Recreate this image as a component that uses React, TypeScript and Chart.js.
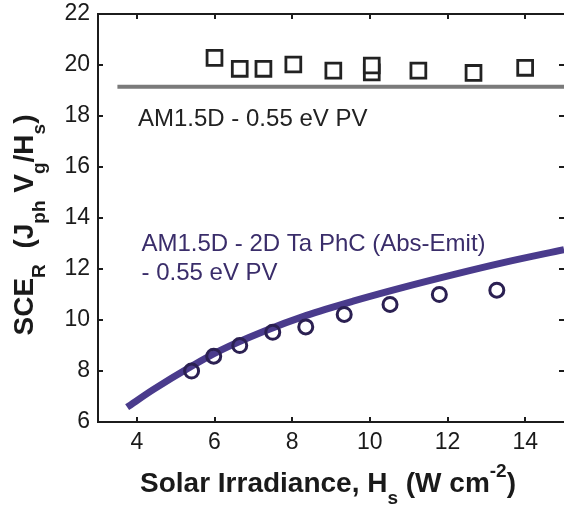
import React, { useEffect, useRef } from 'react';
import { Chart, registerables } from 'chart.js';

Chart.register(...registerables);

// Axis ticks
const xTickValues = [4, 6, 8, 10, 12, 14];
const yTickValues = [6, 8, 10, 12, 14, 16, 18, 20, 22];

// AM1.5D - 0.55 eV PV: measured points and the reference level
const squareX = [6.0, 6.65, 7.26, 8.03, 9.06, 10.05, 10.05, 11.25, 12.67, 14.0];
const squareY = [20.28, 19.85, 19.85, 20.02, 19.78, 19.71, 19.98, 19.78, 19.69, 19.89];
const refLineX = [3.5, 15.0];
const refLineY = [19.15, 19.15];

// AM1.5D - 2D Ta PhC (Abs-Emit) - 0.55 eV PV: measured points and model curve
const circleX = [5.41, 5.98, 6.65, 7.5, 8.35, 9.34, 10.52, 11.79, 13.27];
const circleY = [8.0, 8.58, 9.0, 9.52, 9.73, 10.22, 10.61, 11.0, 11.17];
const curveX = [3.75, 4.42, 5.41, 6.14, 7.26, 8.37, 9.57, 10.86, 12.15, 13.44, 15.0];
const curveY = [6.58, 7.27, 8.19, 8.8, 9.55, 10.18, 10.74, 11.28, 11.78, 12.25, 12.76];

const FONT = '"Liberation Sans", Arial, Helvetica, sans-serif';
const AXIS_COLOR = '#1c1c1c';
const PURPLE_TEXT = '#3a2d6a';

type Part = { t: string; sub?: boolean; sup?: boolean };

const xTitle: Part[] = [
  { t: 'Solar Irradiance, H' },
  { t: 's', sub: true },
  { t: ' (W cm' },
  { t: '-2', sup: true },
  { t: ')' },
];

const yTitle: Part[] = [
  { t: 'SCE' },
  { t: 'R', sub: true },
  { t: '  (J' },
  { t: 'ph', sub: true },
  { t: ' V' },
  { t: 'g', sub: true },
  { t: '/H' },
  { t: 's', sub: true },
  { t: ')' },
];

const toPoints = (xs: number[], ys: number[]) => xs.map((x, i) => ({ x, y: ys[i] }));

// Draws a run of text with sub/superscripts; y is the main baseline.
function drawRich(
  ctx: CanvasRenderingContext2D,
  parts: Part[],
  x: number,
  y: number,
  size: number,
  weight: string,
  align: 'left' | 'center'
) {
  const fontFor = (p: Part) => `${weight} ${p.sub || p.sup ? Math.round(size * 0.68) : size}px ${FONT}`;
  const widths = parts.map((p) => {
    ctx.font = fontFor(p);
    return ctx.measureText(p.t).width;
  });
  const total = widths.reduce((a, b) => a + b, 0);
  let cx = align === 'center' ? x - total / 2 : x;
  ctx.textAlign = 'left';
  ctx.textBaseline = 'alphabetic';
  parts.forEach((p, i) => {
    ctx.font = fontFor(p);
    const dy = p.sub ? size * 0.42 : p.sup ? -size * 0.52 : 0;
    ctx.fillText(p.t, cx, y + dy);
    cx += widths[i];
  });
}

// Keep the plot box fixed: no extra room reserved for overhanging tick labels.
const zeroPadding = (s: any) => {
  s.paddingLeft = 0;
  s.paddingRight = 0;
  s.paddingTop = 0;
  s.paddingBottom = 0;
};

const framePlugin = {
  id: 'frameAndLabels',
  afterDraw(chart: Chart) {
    const { ctx, chartArea } = chart;
    const { left, right, top, bottom } = chartArea;
    const xs = chart.scales.x;
    const ys = chart.scales.y;
    ctx.save();

    // axes box (left, top, bottom) with inward ticks on all four sides
    ctx.strokeStyle = AXIS_COLOR;
    ctx.lineWidth = 2;
    ctx.beginPath();
    ctx.moveTo(right, top);
    ctx.lineTo(left, top);
    ctx.lineTo(left, bottom);
    ctx.lineTo(right, bottom);
    const tl = 5;
    xTickValues.forEach((v) => {
      const px = Math.round(xs.getPixelForValue(v));
      ctx.moveTo(px, bottom);
      ctx.lineTo(px, bottom - tl);
      ctx.moveTo(px, top);
      ctx.lineTo(px, top + tl);
    });
    yTickValues.forEach((v) => {
      const py = Math.round(ys.getPixelForValue(v));
      ctx.moveTo(left, py);
      ctx.lineTo(left + tl, py);
      ctx.moveTo(right, py);
      ctx.lineTo(right - tl, py);
    });
    ctx.stroke();

    // series labels
    ctx.fillStyle = '#222222';
    drawRich(ctx, [{ t: 'AM1.5D - 0.55 eV PV' }], xs.getPixelForValue(4.03), ys.getPixelForValue(17.59), 24, 'normal', 'left');
    ctx.fillStyle = PURPLE_TEXT;
    drawRich(ctx, [{ t: 'AM1.5D - 2D Ta PhC (Abs-Emit)' }], xs.getPixelForValue(4.12), ys.getPixelForValue(12.72), 24, 'normal', 'left');
    drawRich(ctx, [{ t: '- 0.55 eV PV' }], xs.getPixelForValue(4.12), ys.getPixelForValue(11.58), 24, 'normal', 'left');

    // axis titles
    ctx.fillStyle = '#1a1a1a';
    drawRich(ctx, xTitle, (left + right) / 2 - 3, 492, 28, 'bold', 'center');
    ctx.translate(33, (top + bottom) / 2 + 7);
    ctx.rotate(-Math.PI / 2);
    drawRich(ctx, yTitle, 0, 0, 28, 'bold', 'center');
    ctx.restore();
  },
};

export default function App() {
  const canvasRef = useRef<HTMLCanvasElement | null>(null);

  useEffect(() => {
    document.body.style.margin = '0';
    const canvas = canvasRef.current;
    if (!canvas) return;
    const tickFont = { family: FONT, size: 23 };
    const chart = new Chart(canvas, {
      type: 'scatter',
      data: {
        datasets: [
          {
            label: 'Abs-Emit measured',
            data: toPoints(circleX, circleY),
            pointStyle: 'circle',
            pointRadius: 7,
            borderWidth: 3,
            borderColor: '#2b2052',
            backgroundColor: 'rgba(0,0,0,0)',
          },
          {
            label: 'Abs-Emit model',
            data: toPoints(curveX, curveY),
            showLine: true,
            cubicInterpolationMode: 'monotone',
            borderColor: '#4a3b8c',
            borderWidth: 7,
            pointRadius: 0,
            fill: false,
          },
          {
            label: 'AM1.5D measured',
            data: toPoints(squareX, squareY),
            pointStyle: 'rect',
            pointRadius: 10.5,
            borderWidth: 2.8,
            borderColor: '#222222',
            backgroundColor: '#ffffff',
          },
          {
            label: 'AM1.5D reference',
            data: toPoints(refLineX, refLineY),
            showLine: true,
            borderColor: '#7a7a7a',
            borderWidth: 4,
            pointRadius: 0,
            fill: false,
          },
        ],
      },
      options: {
        animation: false,
        responsive: false,
        devicePixelRatio: 1,
        layout: { autoPadding: false, padding: { top: 14, left: 0, right: 0, bottom: 0 } },
        plugins: { legend: { display: false }, tooltip: { enabled: false } },
        scales: {
          x: {
            type: 'linear',
            min: 3,
            max: 15,
            afterBuildTicks: (s: any) => {
              s.ticks = xTickValues.map((value) => ({ value }));
            },
            afterFit: (s: any) => {
              s.height = 86;
              zeroPadding(s);
            },
            grid: { display: false, drawTicks: false },
            border: { display: false },
            ticks: { padding: 7, color: '#1a1a1a', font: tickFont, maxRotation: 0, autoSkip: false },
          },
          y: {
            type: 'linear',
            min: 6,
            max: 22,
            afterBuildTicks: (s: any) => {
              s.ticks = yTickValues.map((value) => ({ value }));
            },
            afterFit: (s: any) => {
              s.width = 98;
              zeroPadding(s);
            },
            grid: { display: false, drawTicks: false },
            border: { display: false },
            ticks: { padding: 8, color: '#1a1a1a', font: tickFont, autoSkip: false },
          },
        },
      },
      plugins: [framePlugin],
    } as any);
    return () => chart.destroy();
  }, []);

  return (
    <div style={{ width: 564, height: 508 }}>
      <canvas ref={canvasRef} width={564} height={508} style={{ display: 'block' }} />
    </div>
  );
}
